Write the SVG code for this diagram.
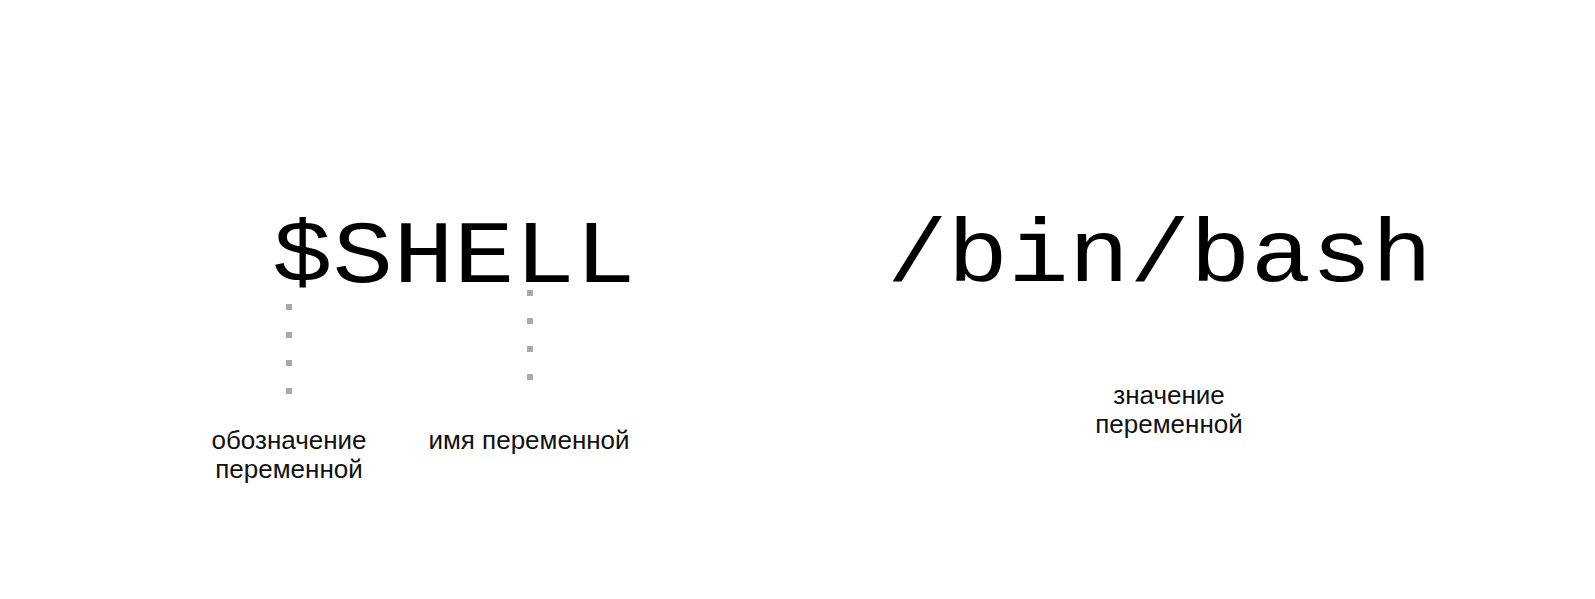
<svg xmlns="http://www.w3.org/2000/svg" width="1595" height="599" viewBox="0 0 1595 599">
<style>
.mono{font-family:"Liberation Mono","Courier New",monospace;font-size:101px;fill:#000}
.lbl{font-family:"Liberation Sans",Arial,Helvetica,sans-serif;font-size:26px;fill:#111;text-anchor:middle}
.dots{stroke:#aaaaaa;stroke-width:6;stroke-dasharray:6 22;fill:none}
</style>
<rect width="1595" height="599" fill="#fff"/>
<g id="var-symbol">
<text class="mono" transform="translate(272,282) scale(1,0.88)" x="0" y="0">$SHELL</text>
</g>
<g id="var-value">
<text class="mono" transform="translate(887,281) scale(1,0.88)" x="0" y="0">/bin/bash</text>
</g>
<g id="connectors">
<line class="dots" x1="289" y1="304" x2="289" y2="396"/>
<line class="dots" x1="530" y1="290" x2="530" y2="382"/>
</g>
<g id="label-sign">
<text class="lbl" x="289" y="449">обозначение</text>
<text class="lbl" x="289" y="478">переменной</text>
</g>
<g id="label-name">
<text class="lbl" x="529" y="449">имя переменной</text>
</g>
<g id="label-value">
<text class="lbl" x="1169" y="404">значение</text>
<text class="lbl" x="1169" y="433">переменной</text>
</g>
</svg>
